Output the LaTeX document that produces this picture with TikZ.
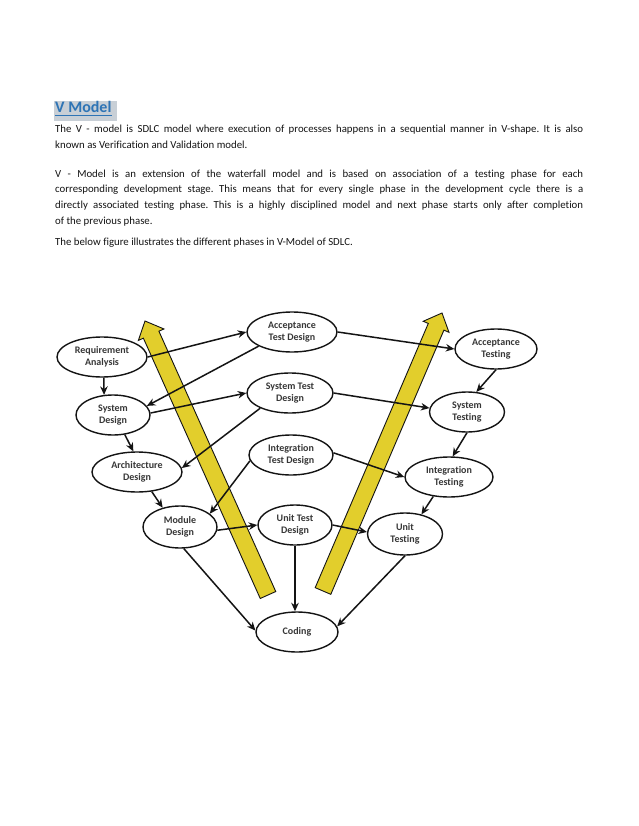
\documentclass[tikz,border=0pt]{standalone}
\usepackage{fontspec}
\setmainfont{Carlito}[Ligatures=NoCommon]
\usetikzlibrary{shapes.geometric,arrows.meta}
\definecolor{vyellow}{RGB}{226,206,44}
\definecolor{titleblue}{RGB}{46,116,181}
\definecolor{hl}{RGB}{200,207,214}
\definecolor{ink}{RGB}{20,20,20}
\frenchspacing
\begin{document}
\begin{tikzpicture}[x=1pt,y=-1pt,
  phase/.style={ellipse, draw=ink, line width=1.4pt, fill=white, inner sep=0pt,
    font=\bfseries\fontsize{10}{12.3}\selectfont, text=ink!85, align=center},
  conn/.style={draw=ink, line width=1.5pt, -{Stealth[length=8.5pt,width=7.5pt]}},
  bodyline/.style={anchor=base west, inner sep=0pt, text=ink, font=\fontsize{10.8}{15.7}\selectfont},
  vband/.style={fill=vyellow, draw=ink, line width=0.9pt, line join=miter}]
\useasboundingbox (0,0) rectangle (638,826);
\fill[white] (0,0) rectangle (638,826);
% title
\fill[hl] (54,101) rectangle (117,121);
\node[anchor=base west, inner sep=0pt, text=titleblue, font=\bfseries\fontsize{16}{19}\selectfont] (title) at (55,113) {V Model};
\draw[titleblue, line width=1.1pt] ([yshift=-2.5pt]title.base west) -- ([yshift=-2.5pt]title.base east);
% body text
\node[bodyline] (p1a) at (55,133) {\makebox[528pt][s]{The V - model is SDLC model where execution of processes happens in a sequential manner in V-shape. It is also}};
\node[bodyline] (p1b) at (55,148.7) {known as Verification and Validation model.};
\node[bodyline] (p2a) at (55,177.3) {\makebox[528pt][s]{V - Model is an extension of the waterfall model and is based on association of a testing phase for each}};
\node[bodyline] (p2b) at (55,193) {\makebox[528pt][s]{corresponding development stage. This means that for every single phase in the development cycle there is a}};
\node[bodyline] (p2c) at (55,208.7) {\makebox[528pt][s]{directly associated testing phase. This is a highly disciplined model and next phase starts only after completion}};
\node[bodyline] (p2d) at (55,224.3) {of the previous phase.};
\node[bodyline] (p3) at (55,245) {The below figure illustrates the different phases in V-Model of SDLC.};
% yellow arrows
\draw[vband] (145,321) -- (163.91,328.96) -- (158.90,331.21) -- (275.76,591.52) -- (260.24,598.48) -- (143.38,338.17) -- (138.37,340.42) -- cycle;
\draw[vband] (442,313) -- (448.97,332.30) -- (443.91,330.13) -- (330.81,594.34) -- (315.19,587.66) -- (428.29,323.45) -- (423.23,321.28) -- cycle;
% nodes
\node[phase, minimum width=90pt, minimum height=40pt] (req) at (102,357) {Requirement\\Analysis};
\node[phase, minimum width=74pt, minimum height=40pt] (sysd) at (113,415) {System\\Design};
\node[phase, minimum width=90pt, minimum height=40pt] (arch) at (137,472) {Architecture\\Design};
\node[phase, minimum width=74pt, minimum height=42pt] (mod) at (180,527) {Module\\Design};
\node[phase, minimum width=82pt, minimum height=40pt] (cod) at (297,632) {Coding};
\node[phase, minimum width=90pt, minimum height=40pt] (acctd) at (292,332) {Acceptance\\Test Design};
\node[phase, minimum width=86pt, minimum height=40pt] (systd) at (290,393) {System Test\\Design};
\node[phase, minimum width=84pt, minimum height=40pt] (inttd) at (291,455) {Integration\\Test Design};
\node[phase, minimum width=74pt, minimum height=40pt] (utd) at (295,525) {Unit Test\\Design};
\node[phase, minimum width=82pt, minimum height=40pt] (acct) at (496,349) {Acceptance\\Testing};
\node[phase, minimum width=75pt, minimum height=40pt] (syst) at (467,412) {System\\Testing};
\node[phase, minimum width=88pt, minimum height=40pt] (intt) at (449,477) {Integration\\Testing};
\node[phase, minimum width=75pt, minimum height=42pt] (ut) at (405,534) {Unit\\Testing};
% connectors
\draw[conn] (req.0) -- (acctd.180);
\draw[conn] (acctd.203) -- (sysd.15);
\draw[conn] (sysd.3) -- (systd.180);
\draw[conn] (systd.207) -- (arch.5);
\draw[conn] (inttd.188) -- (mod.24);
\draw[conn] (mod.355) -- (utd.180);
\draw[conn] (mod.280) -- (cod.178);
\draw[conn] (utd.270) -- (utd.270 |- cod.north);
\draw[conn] (ut.270) -- (cod.8);
\draw[conn] (acctd.0) -- (acct.180);
\draw[conn] (systd.0) -- (syst.174);
\draw[conn] (inttd.3) -- (intt.180);
\draw[conn] (utd.0) -- (ut.177);
\draw[conn] (acct.270) -- (syst.65);
\draw[conn] (syst.270) -- (intt.80);
\draw[conn] (intt.231) -- (ut.50);
\draw[conn] (req.275) -- (sysd.114);
\draw[conn] (sysd.301) -- (arch.100);
\draw[conn] (arch.307) -- (mod.132);
\end{tikzpicture}
\end{document}
